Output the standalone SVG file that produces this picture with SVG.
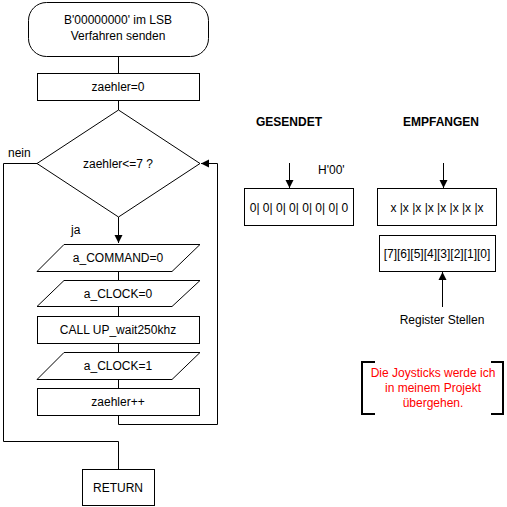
<svg xmlns="http://www.w3.org/2000/svg" width="507" height="507" viewBox="0 0 507 507">
  <defs>
    <marker id="arrow" viewBox="0 0 10 10" refX="10" refY="5" markerWidth="8" markerHeight="10" markerUnits="userSpaceOnUse" orient="auto">
      <path d="M0,0 L10,5 L0,10 z" fill="#000"/>
    </marker>
  </defs>
  <style>
    .shape { fill: #fff; stroke: #000; stroke-width: 1; }
    .line { fill: none; stroke: #000; stroke-width: 1; }
    .bracket { fill: none; stroke: #000; stroke-width: 2; }
    text { font-family: "Liberation Sans", Arial, sans-serif; font-size: 12px; fill: #000; text-anchor: middle; }
    .bold { font-weight: bold; }
    .left { text-anchor: start; }
    .red { fill: #ff0000; }
  </style>
  <rect width="507" height="507" fill="#fff"/>

  <!-- connectors -->
  <g id="connectors">
    <path class="line" d="M118.5,56 V73"/>
    <path class="line" d="M118.5,100 V110"/>
    <path class="line" d="M118.5,217 V243" marker-end="url(#arrow)"/>
    <path class="line" d="M118.5,271 V280"/>
    <path class="line" d="M118.5,306 V316"/>
    <path class="line" d="M118.5,343 V352"/>
    <path class="line" d="M118.5,379 V388"/>
    <path class="line" d="M118.5,415 V424.5 H217.5 V163.5 H201" marker-end="url(#arrow)"/>
    <path class="line" d="M37,163.5 H3.5 V441.5 H118.5 V469"/>
    <path class="line" d="M289.5,163 V188" marker-end="url(#arrow)"/>
    <path class="line" d="M443.5,163 V188" marker-end="url(#arrow)"/>
    <path class="line" d="M442.5,307 V272" marker-end="url(#arrow)"/>
  </g>

  <g id="start">
    <rect class="shape" x="28.5" y="2.5" width="180" height="54" rx="18" ry="18"/>
    <text x="118" y="24">B'00000000' im LSB</text>
    <text x="118" y="40">Verfahren senden</text>
  </g>

  <g id="init">
    <rect class="shape" x="37.5" y="73.5" width="162" height="27"/>
    <text x="118" y="91">zaehler=0</text>
  </g>

  <g id="decision">
    <polygon class="shape" points="118.5,110 200,163.5 118.5,217 37,163.5"/>
    <text x="118" y="168">zaehler&lt;=7 ?</text>
    <text class="left" x="8" y="157">nein</text>
    <text class="left" x="71" y="234">ja</text>
  </g>

  <g id="command">
    <polygon class="shape" points="64,244.5 200,244.5 172,271.5 37,271.5"/>
    <text x="118" y="262">a_COMMAND=0</text>
  </g>

  <g id="clock0">
    <polygon class="shape" points="64,280.5 200,280.5 172,306.5 37,306.5"/>
    <text x="118" y="298">a_CLOCK=0</text>
  </g>

  <g id="wait">
    <rect class="shape" x="37.5" y="316.5" width="162" height="27"/>
    <text x="118" y="334">CALL UP_wait250khz</text>
  </g>

  <g id="clock1">
    <polygon class="shape" points="64,352.5 200,352.5 172,379.5 37,379.5"/>
    <text x="118" y="370">a_CLOCK=1</text>
  </g>

  <g id="increment">
    <rect class="shape" x="37.5" y="388.5" width="162" height="27"/>
    <text x="118" y="406">zaehler++</text>
  </g>

  <g id="return">
    <rect class="shape" x="82.5" y="469.5" width="72" height="36"/>
    <text x="118" y="492">RETURN</text>
  </g>

  <g id="sent">
    <text class="bold" x="289" y="126">GESENDET</text>
    <text class="left" x="318" y="174">H'00'</text>
    <rect class="shape" x="244.5" y="188.5" width="109" height="37"/>
    <text x="299" y="212">0| 0| 0| 0| 0| 0| 0| 0</text>
  </g>

  <g id="received">
    <text class="bold" x="441" y="126">EMPFANGEN</text>
    <rect class="shape" x="377.5" y="188.5" width="119" height="37"/>
    <text x="437" y="212">x |x |x |x |x |x |x |x</text>
  </g>

  <g id="register">
    <rect class="shape" x="379.5" y="235.5" width="116" height="36"/>
    <text x="437" y="258">[7][6][5][4][3][2][1][0]</text>
    <text x="442" y="324">Register Stellen</text>
  </g>

  <g id="note">
    <path class="bracket" d="M375,362 H362 V414 H375"/>
    <path class="bracket" d="M491,362 H503 V414 H491"/>
    <text class="red" x="433" y="377">Die Joysticks werde ich</text>
    <text class="red" x="433" y="392">in meinem Projekt</text>
    <text class="red" x="433" y="407">übergehen.</text>
  </g>
</svg>
